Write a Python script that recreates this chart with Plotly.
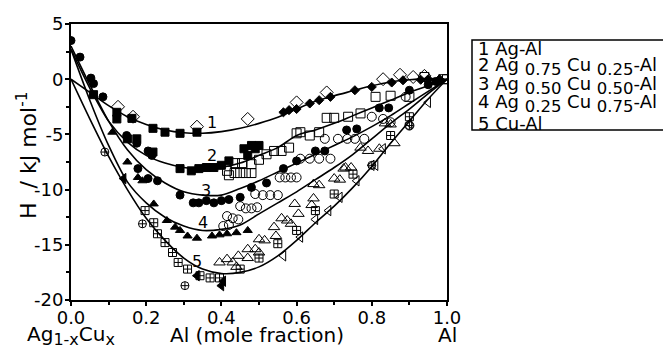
import plotly.graph_objects as go

# ---------------- data ----------------
# fitted curves (mole fraction Al, H in kJ/mol)
curve_x = [0.0, 0.05, 0.10, 0.15, 0.20, 0.25, 0.30, 0.35, 0.40, 0.45, 0.50,
           0.55, 0.60, 0.65, 0.70, 0.75, 0.80, 0.85, 0.90, 0.95, 1.0]
curve1_h = [0.0, -1.2, -2.4, -3.4, -4.1, -4.6, -4.85, -4.9, -4.75, -4.45, -4.0,
            -3.45, -2.7, -2.0, -1.5, -1.05, -0.6, -0.25, -0.05, 0.05, 0.0]
curve2_h = [2.7, -0.8, -3.8, -5.7, -6.9, -7.6, -8.0, -8.1, -8.0, -7.6, -6.9,
            -6.2, -5.1, -4.6, -4.0, -3.3, -2.6, -1.9, -1.2, -0.6, 0.0]
curve3_h = [3.0, -0.5, -3.8, -6.4, -8.2, -9.4, -10.2, -10.5, -10.5, -9.9, -9.2,
            -8.4, -7.6, -6.8, -6.0, -5.2, -4.3, -3.3, -2.2, -1.1, 0.0]
curve4_h = [2.7, -1.9, -6.0, -9.3, -11.2, -12.5, -13.3, -13.7, -13.6, -13.2, -12.2,
            -11.2, -10.2, -9.1, -8.0, -6.8, -5.4, -4.0, -2.7, -1.3, 0.0]
curve5_h = [0.0, -3.6, -7.0, -10.0, -12.6, -14.6, -16.2, -17.2, -17.6, -17.5, -17.0,
            -16.0, -14.6, -13.0, -11.5, -9.8, -7.9, -5.8, -3.8, -1.8, 0.0]

curve_labels = ["1", "2", "3", "4", "5"]
label_x = [0.375, 0.375, 0.36, 0.35, 0.335]
label_h = [-3.9, -6.9, -10.1, -13.0, -16.5]

# experimental points
s1_open_diamond_x = [0.125, 0.165, 0.335, 0.47, 0.60, 0.68, 0.83, 0.875, 0.91, 0.94]
s1_open_diamond_h = [-2.5, -3.4, -4.3, -3.6, -2.1, -1.2, 0.0, 0.4, 0.2, 0.3]
s1_filled_diamond_x = [0.565, 0.58, 0.60, 0.635, 0.66, 0.69, 0.755, 0.80, 0.853, 0.883, 0.93, 0.95, 0.98]
s1_filled_diamond_h = [-3.0, -2.8, -2.7, -2.2, -1.9, -1.6, -1.0, -0.7, -0.3, -0.1, -0.05, 0.0, 0.0]
s1_filled_square_x = [0.122, 0.162, 0.218, 0.25, 0.29, 0.335]
s1_filled_square_h = [-3.0, -3.55, -4.45, -4.8, -4.9, -4.8]

s2_filled_square_x = [0.06, 0.122, 0.15, 0.175, 0.218, 0.29, 0.32, 0.34, 0.36, 0.38, 0.40, 0.42,
                      0.46, 0.47, 0.48, 0.49, 0.50]
s2_filled_square_h = [-1.4, -3.6, -5.4, -5.4, -6.6, -8.1, -8.3, -8.1, -8.0, -8.0, -7.8, -7.4,
                      -6.3, -6.9, -6.0, -6.3, -6.0]
s2_open_square_x = [0.415, 0.42, 0.435, 0.45, 0.465, 0.48, 0.436, 0.455, 0.48, 0.50, 0.52, 0.54,
                    0.56, 0.58, 0.60, 0.61, 0.635, 0.66, 0.68, 0.70, 0.737, 0.77, 0.81, 0.85,
                    0.90, 0.94, 0.99, 1.0]
s2_open_square_h = [-8.3, -8.7, -8.5, -8.5, -8.5, -8.5, -7.6, -7.6, -7.7, -7.3, -6.8, -6.5,
                    -6.5, -6.2, -4.9, -4.8, -5.1, -4.8, -3.5, -3.5, -3.4, -3.1, -1.6, -1.5,
                    -1.6, 0.2, 0.0, 0.0]

s3_filled_circle_x = [0.0, 0.024, 0.053, 0.06, 0.085, 0.148, 0.175, 0.205, 0.215, 0.178, 0.205,
                      0.23, 0.29, 0.325, 0.34, 0.36, 0.38, 0.40, 0.42, 0.45, 0.48, 0.52, 0.565,
                      0.60, 0.65, 0.675, 0.733, 0.76, 0.82, 0.845, 0.90, 0.95, 0.97]
s3_filled_circle_h = [3.5, 2.0, 0.1, -0.4, -1.6, -5.1, -5.8, -6.5, -6.9, -8.1, -9.0,
                      -9.2, -10.5, -11.2, -11.2, -11.0, -11.2, -11.0, -10.9, -10.7, -9.8, -9.4, -8.1,
                      -7.4, -6.5, -6.5, -4.6, -4.5, -2.6, -2.6, -1.0, -0.5, -0.2]
s3_open_circle_x = [0.49, 0.51, 0.53, 0.55, 0.555, 0.57, 0.585, 0.60, 0.61, 0.635, 0.66, 0.69,
                    0.675, 0.71, 0.735, 0.755, 0.78, 0.80, 0.83, 0.85, 0.90, 0.89,
                    0.45, 0.465, 0.48, 0.495, 0.415, 0.43, 0.445, 0.405, 0.42]
s3_open_circle_h = [-10.4, -10.5, -10.5, -10.5, -8.9, -8.9, -8.9, -8.9, -7.2, -7.2, -7.2, -7.2,
                    -5.4, -5.4, -5.4, -5.4, -5.4, -3.4, -3.6, -3.9, -4.2, -1.6,
                    -11.5, -11.7, -11.7, -11.6, -12.4, -12.6, -12.7, -13.3, -13.2]

s4_filled_triangle_x = [0.11, 0.15, 0.178, 0.19, 0.22, 0.255, 0.277, 0.29, 0.31, 0.335, 0.375,
                        0.395, 0.415, 0.44, 0.47]
s4_filled_triangle_h = [-4.8, -7.5, -8.9, -9.2, -11.3, -12.8, -13.4, -13.7, -14.2, -14.4, -14.2,
                        -14.1, -14.0, -13.9, -13.7]
s4_open_triangle_x = [0.645, 0.66, 0.70, 0.715, 0.73, 0.595, 0.605, 0.56, 0.575, 0.585, 0.54,
                      0.545, 0.50, 0.515, 0.47, 0.49, 0.50, 0.445, 0.47, 0.415, 0.395, 0.43,
                      0.44, 0.82, 0.86, 0.77, 0.79, 0.725, 0.745, 0.835, 0.85, 0.645, 0.64]
s4_open_triangle_h = [-9.5, -9.6, -9.0, -9.1, -8.0, -11.3, -12.2, -12.6, -12.8, -13.1, -13.4,
                      -14.2, -14.5, -14.6, -15.4, -15.4, -15.7, -16.0, -16.2, -16.3, -16.6, -16.6,
                      -17.0, -6.3, -5.8, -6.2, -6.5, -8.1, -8.0, -4.0, -4.1, -10.8, -11.4]

s5_open_squarex_x = [0.197, 0.22, 0.23, 0.25, 0.27, 0.285, 0.31, 0.343, 0.37, 0.395, 0.45, 0.50,
                     0.55, 0.60, 0.65, 0.70, 0.75, 0.85, 0.90]
s5_open_squarex_h = [-11.9, -13.0, -14.0, -14.8, -15.7, -16.6, -17.2, -17.8, -18.0, -18.0, -17.2, -16.2,
                     -14.9, -13.7, -11.9, -10.4, -8.6, -5.1, -3.4]
s5_open_tri_left_x = [0.565, 0.61, 0.65, 0.685, 0.715, 0.76, 0.80, 0.81, 0.83, 0.90, 0.95]
s5_open_tri_left_h = [-16.0, -14.3, -12.7, -11.9, -10.7, -9.2, -7.8, -7.8, -6.3, -4.0, -2.1]
s5_circle_line_x = [0.09, 0.19, 0.303, 0.80, 0.90]
s5_circle_line_h = [-6.6, -13.1, -18.7, -7.8, -4.2]
s5_filled_tri_left_x = [0.14, 0.335, 0.40, 0.405]
s5_filled_tri_left_h = [-9.0, -17.8, -18.7, -18.3]

SUB = '<sub><span style="font-size:16.5px">{}</span></sub>'
legend_lines = ["1 Ag-Al",
                "2 Ag " + SUB.format("0.75") + " Cu " + SUB.format("0.25") + "-Al",
                "3 Ag " + SUB.format("0.50") + " Cu " + SUB.format("0.50") + "-Al",
                "4 Ag " + SUB.format("0.25") + " Cu " + SUB.format("0.75") + "-Al",
                "5 Cu-Al"]

x_ticks = [0.0, 0.2, 0.4, 0.6, 0.8, 1.0]
y_ticks = [-20, -15, -10, -5, 0, 5]

# ---------------- figure ----------------
FONT = "DejaVu Sans, Arial, sans-serif"
fig = go.Figure()

for h in [curve1_h, curve2_h, curve3_h, curve4_h, curve5_h]:
    fig.add_trace(go.Scatter(x=curve_x, y=h, mode="lines",
                             line=dict(color="black", width=1.6, shape="spline", smoothing=0.8),
                             hoverinfo="skip"))

def pts(x, y, symbol, size):
    fig.add_trace(go.Scatter(x=x, y=y, mode="markers",
                             marker=dict(symbol=symbol, size=size, color="black",
                                         line=dict(color="black", width=1))))

pts(s1_open_diamond_x, s1_open_diamond_h, "diamond-open", 10)
pts(s1_filled_diamond_x, s1_filled_diamond_h, "diamond", 7)
pts(s1_filled_square_x, s1_filled_square_h, "square", 8)
pts(s2_filled_square_x, s2_filled_square_h, "square", 8)
pts(s2_open_square_x, s2_open_square_h, "square-open", 9)
pts(s3_filled_circle_x, s3_filled_circle_h, "circle", 8)
pts(s3_open_circle_x, s3_open_circle_h, "circle-open", 9)
pts(s4_filled_triangle_x, s4_filled_triangle_h, "triangle-up", 8)
pts(s4_open_triangle_x, s4_open_triangle_h, "triangle-up-open", 10)
pts(s5_open_squarex_x, s5_open_squarex_h, "square-cross-open", 8)
pts(s5_open_tri_left_x, s5_open_tri_left_h, "triangle-left-open", 9)
pts(s5_circle_line_x, s5_circle_line_h, "circle-cross-open", 8)
pts(s5_filled_tri_left_x, s5_filled_tri_left_h, "triangle-left", 9)

for t, lx, lh in zip(curve_labels, label_x, label_h):
    fig.add_annotation(x=lx, y=lh, text=t, showarrow=False, xref="x", yref="y",
                       font=dict(family=FONT, size=16, color="black"))

PW, PH = 376.0, 276.0
def px2x(p):
    return (p - 71) / PW
def py2y(p):
    return (300 - p) / PH

# axis texts
XT = dict(family=FONT, size=20, color="black")
fig.add_annotation(x=0.0, y=py2y(320), xref="paper", yref="paper",
                   text='Ag<sub><span style="font-size:16px">1-x</span></sub>Cu<sub><span style="font-size:16px">x</span></sub>',
                   showarrow=False, yanchor="top", xanchor="center", font=XT)
fig.add_annotation(x=0.495, y=py2y(321), xref="paper", yref="paper", text="Al (mole fraction)",
                   showarrow=False, yanchor="top", xanchor="center", font=XT)
fig.add_annotation(x=1.0, y=py2y(321), xref="paper", yref="paper", text="Al",
                   showarrow=False, yanchor="top", xanchor="center", font=XT)
fig.add_annotation(x=px2x(27), y=py2y(155), xref="paper", yref="paper", text="H  / kJ mol<sup>-1</sup>",
                   showarrow=False, textangle=-90, xanchor="center", yanchor="middle",
                   font=dict(family=FONT, size=22, color="black"))

# legend box
fig.add_shape(type="rect", xref="paper", yref="paper",
              x0=px2x(472), x1=px2x(700), y0=py2y(130), y1=py2y(40),
              line=dict(color="black", width=1.5), fillcolor="white")
row_y = [48, 66, 85, 104, 123]
for txt, ry in zip(legend_lines, row_y):
    fig.add_annotation(x=px2x(476), y=py2y(ry), xref="paper", yref="paper", text=txt,
                       showarrow=False, xanchor="left", yanchor="middle",
                       font=dict(family=FONT, size=18, color="black"))

axis_common = dict(showline=True, linecolor="black", linewidth=2, mirror=True,
                   ticks="outside", ticklen=4, tickwidth=1.5, tickcolor="black",
                   showgrid=False, zeroline=False,
                   tickfont=dict(family=FONT, size=18, color="black"))

fig.update_xaxes(range=[0, 1], tickvals=x_ticks, ticktext=[f"{v:.1f}" for v in x_ticks],
                 ticklabelstandoff=-4,
                 minor=dict(dtick=0.1, ticks="outside", ticklen=3, tickcolor="black", tickwidth=1.5),
                 **axis_common)
fig.update_yaxes(range=[-20, 5], tickvals=y_ticks, ticktext=[str(v) for v in y_ticks],
                 ticklabelstandoff=-2,
                 minor=dict(dtick=2.5, ticks="outside", ticklen=3, tickcolor="black", tickwidth=1.5),
                 **axis_common)

fig.update_layout(width=663, height=348, margin=dict(l=71, r=216, t=24, b=48),
                  paper_bgcolor="white", plot_bgcolor="white", showlegend=False)

fig.write_html("out.html")
